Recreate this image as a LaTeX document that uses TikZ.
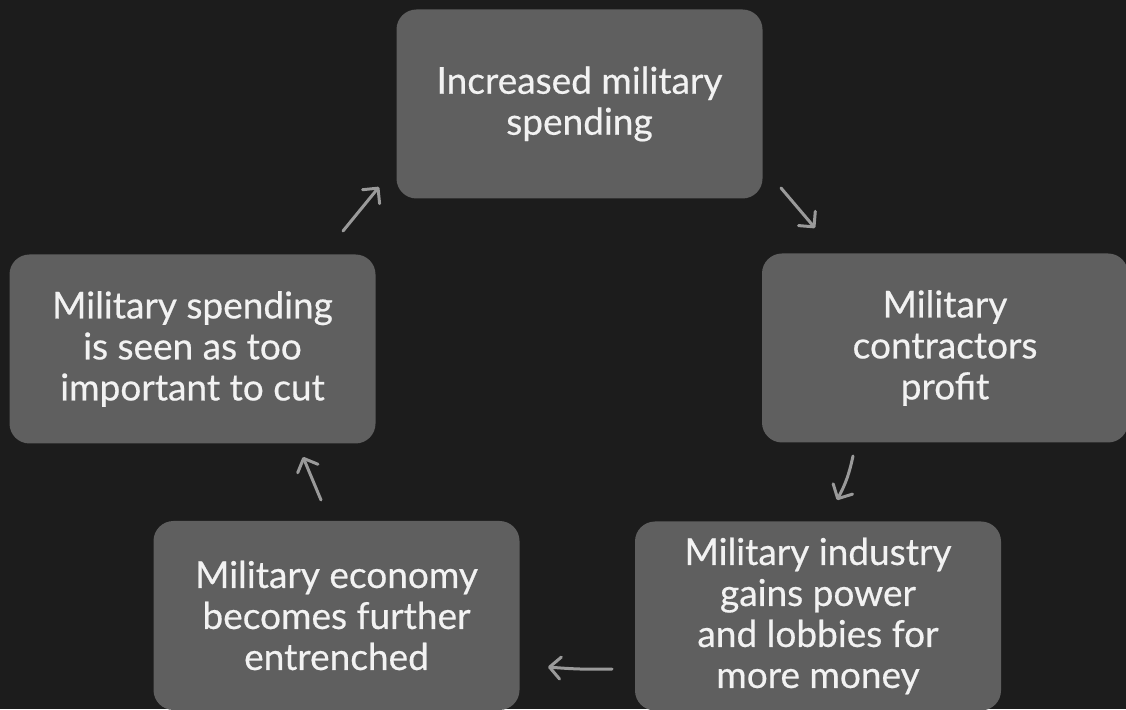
\documentclass[tikz,border=0pt]{standalone}
\usepackage{fontspec}
\setmainfont{Lato}[FakeBold=0.5]
\usetikzlibrary{arrows.meta}
\definecolor{bg}{HTML}{1C1C1C}
\definecolor{boxfill}{HTML}{5F5F5F}
\definecolor{txt}{HTML}{F2F2F2}
\definecolor{arr}{HTML}{9A9A9A}
\tikzset{
  cyclebox/.style={fill=boxfill, rounded corners=20pt, minimum width=366pt, minimum height=189pt,
    text=txt, align=center, inner sep=0pt, font=\fontsize{37}{41}\selectfont},
  cyclearrow/.style={draw=arr, line width=3pt, line cap=round,
    -{Straight Barb[length=11pt,width=22pt,line width=3pt,round]}}
}
\begin{document}
\begin{tikzpicture}[x=1pt,y=1pt]
\useasboundingbox (0,0) rectangle (1126,709);
\fill[bg] (0,0) rectangle (1126,709);
\clip (0,0) rectangle (1126,709);
\node[cyclebox] (top) at (579.5,605) {Increased military\\spending};
\node[cyclebox] (right) at (945,361) {Military\\contractors\\profit};
\node[cyclebox] (left) at (192.5,360) {Military spending\\is seen as too\\important to cut};
\node[cyclebox] (bl) at (336.5,93.5) {Military economy\\becomes further\\entrenched};
\node[cyclebox] (br) at (818,93) {Military industry\\gains power\\and lobbies for\\more money};
\coordinate (a1s) at (343,478); \coordinate (a1e) at (379,522);
\coordinate (a2s) at (781,521); \coordinate (a2e) at (815,481);
\coordinate (a3s) at (853,253); \coordinate (a3e) at (837,209);
\coordinate (a4s) at (612,40);  \coordinate (a4e) at (548,42);
\coordinate (a5s) at (321,209); \coordinate (a5e) at (303,252);
\draw[cyclearrow] (a1s) -- (a1e);
\draw[cyclearrow] (a2s) -- (a2e);
\draw[cyclearrow] (a3s) to[bend left=8] (a3e);
\draw[cyclearrow] (a4s) to[bend left=3] (a4e);
\draw[cyclearrow] (a5s) -- (a5e);
\end{tikzpicture}
\end{document}
